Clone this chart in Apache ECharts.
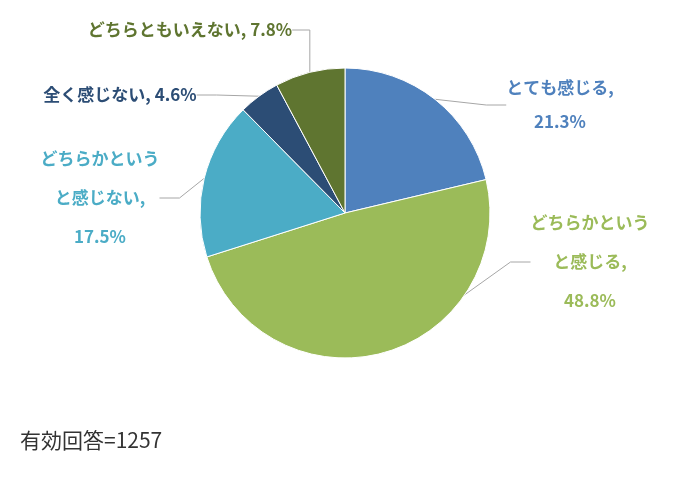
<!DOCTYPE html>
<html><head><meta charset="utf-8">
<script src="https://cdn.jsdelivr.net/npm/echarts@6/dist/echarts.min.js"></script>
<style>html,body{margin:0;background:#fff}#c{width:700px;height:482px}</style>
</head><body><div id="c"></div>
<script>
const categories = ['とても感じる', 'どちらかというと感じる', 'どちらかというと感じない', '全く感じない', 'どちらともいえない'];
const labelTexts = ['とても感じる,\n21.3%', 'どちらかというう\nと感じる,\n48.8%', 'どちらかというう\nと感じない,\n17.5%', '全く感じない, 4.6%', 'どちらともいえない, 7.8%'];
labelTexts[1] = 'どちらかという\nと感じる,\n48.8%';
labelTexts[2] = 'どちらかという\nと感じない,\n17.5%';
const values = [21.3, 48.8, 17.5, 4.6, 7.8];
const colors = ['#4f81bd', '#9bbb59', '#4bacc6', '#2c4d75', '#5f7530'];
const labelPos = [[560, 105, 34], [590, 262, 39], [100, 198, 39], [120, 95, 20], [190, 30, 20]];
const chart = echarts.init(document.getElementById('c'));
chart.setOption({
  animation: false,
  graphic: [{type: 'text', left: 20, top: 430, style: {text: '有効回答=1257', fontSize: 21, fill: '#333', fontFamily: 'Noto Sans CJK JP'}}],
  series: [{
    type: 'pie', center: [345, 213], radius: 145, startAngle: 90, clockwise: true,
    itemStyle: {borderColor: '#fff', borderWidth: 1},
    label: {show: true, position: 'outside', fontSize: 17, fontWeight: 'bold', fontFamily: 'Noto Sans CJK JP',
      formatter: p => labelTexts[p.dataIndex]},
    labelLine: {show: true, lineStyle: {color: '#a6a6a6', width: 1}, length: 20, length2: 20},
    labelLayout: p => {
      const q = labelPos[p.dataIndex];
      return {x: q[0], y: q[1], align: 'center', verticalAlign: 'middle'};
    },
    data: categories.map((c, i) => ({
      name: c, value: values[i], itemStyle: {color: colors[i]},
      label: {color: colors[i], lineHeight: labelPos[i][2]}
    }))
  }]
});
</script></body></html>
